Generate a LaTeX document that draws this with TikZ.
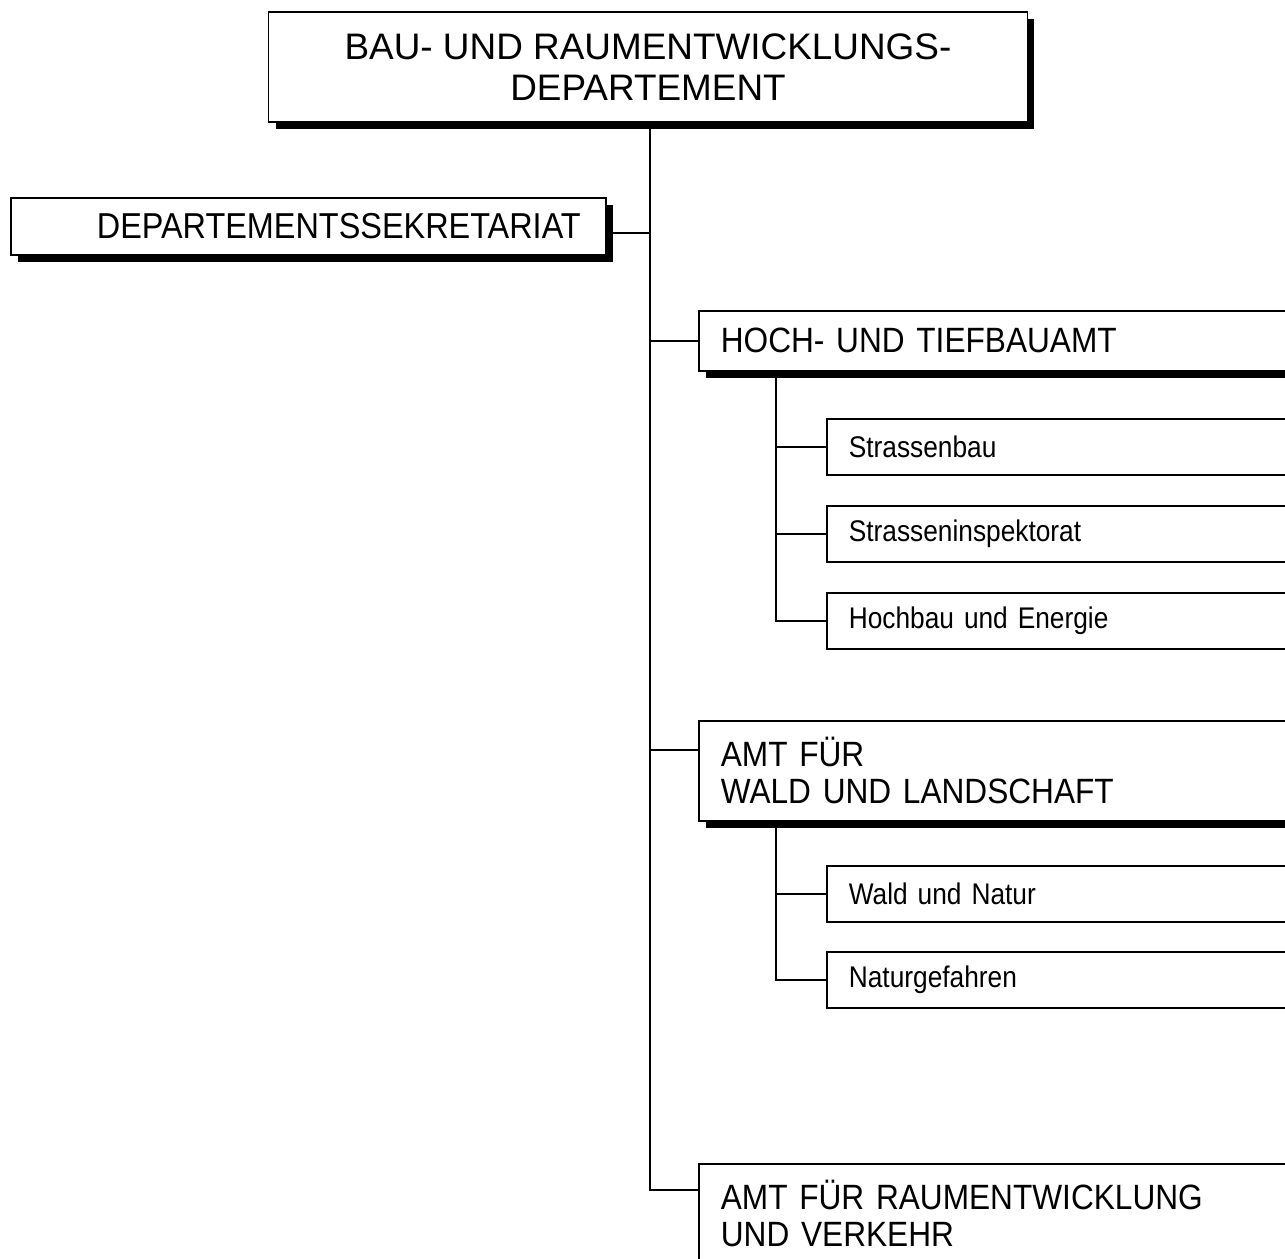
\documentclass[tikz,border=0pt]{standalone}
\usepackage{fontspec}
\setmainfont{Liberation Sans}
\newfontfamily\narrowfont[FakeStretch=0.9]{Liberation Sans}
\newfontfamily\smallfont[FakeStretch=0.88]{Liberation Sans}
\usetikzlibrary{shadows}

\tikzset{
    box/.style={draw=black, line width=1pt, fill=white, inner ysep=0pt, inner xsep=0.44cm},
    shadowed/.style={drop shadow={shadow xshift=0.14cm, shadow yshift=-0.14cm, fill=black, opacity=1}},
    amt/.style={box, shadowed, anchor=north west, text width=11.52cm, align=left, font=\narrowfont\fontsize{20}{21}\selectfont},
    abteilung/.style={box, anchor=north west, minimum height=1.12cm, text width=8.92cm, align=left, font=\smallfont\fontsize{17}{18}\selectfont},
    link/.style={line width=1pt},
}

\begin{document}
\begin{tikzpicture}[x=0.02cm, y=-0.02cm]
        \useasboundingbox (0, 0) rectangle (1285, 1258);
        \clip (0, 0) rectangle (1285, 1258);

        \coordinate (trunk) at (650, 0);
        \coordinate (hochsub) at (776, 0);
        \coordinate (waldsub) at (776, 0);

        \node[box, shadowed, minimum width=15.18cm, minimum height=2.2cm, align=center, font=\fontsize{21}{23}\selectfont] (dept) at (648, 67) {BAU- UND RAUMENTWICKLUNGS-\\DEPARTEMENT};
        \node[box, shadowed, anchor=north west, inner xsep=0.5cm, text width=10.9cm, minimum height=1.14cm, align=right, font=\narrowfont\fontsize{20.5}{21}\selectfont] (sekr) at (10, 197) {DEPARTEMENTSSEKRETARIAT};

        \node[amt, minimum height=1.2cm] (hoch) at (698, 310) {HOCH- UND TIEFBAUAMT};
        \node[abteilung] (strassenbau) at (826, 418) {Strassenbau};
        \node[abteilung] (inspektorat) at (826, 505) {Strasseninspektorat};
        \node[abteilung] (hochbau) at (826, 592) {Hochbau und Energie};

        \node[amt, minimum height=2cm] (wald) at (698, 720) {AMT FÜR\\WALD UND LANDSCHAFT};
        \node[abteilung] (natur) at (826, 865) {Wald und Natur};
        \node[abteilung] (gefahren) at (826, 951) {Naturgefahren};

        \node[amt, minimum height=2cm] (raum) at (698, 1163) {AMT FÜR RAUMENTWICKLUNG\\UND VERKEHR};

        \coordinate (sekrlink) at ([yshift=-0.13cm]sekr.east);
        \coordinate (waldlink) at ([yshift=-0.6cm]wald.north west);
        \coordinate (raumlink) at ([yshift=-0.54cm]raum.north west);

        % main line
        \draw[link] (dept.south -| trunk) |- (raumlink);
        \draw[link] (sekrlink) -- (sekrlink -| trunk);
        \draw[link] (hoch.west) -- (hoch.west -| trunk);
        \draw[link] (waldlink) -- (waldlink -| trunk);

        % Hoch- und Tiefbauamt
        \draw[link] (hoch.south -| hochsub) |- (hochbau.west);
        \draw[link] (strassenbau.west) -- (strassenbau.west -| hochsub);
        \draw[link] (inspektorat.west) -- (inspektorat.west -| hochsub);

        % Wald und Landschaft
        \draw[link] (wald.south -| waldsub) |- (gefahren.west);
        \draw[link] (natur.west) -- (natur.west -| waldsub);
    \end{tikzpicture}
\end{document}
